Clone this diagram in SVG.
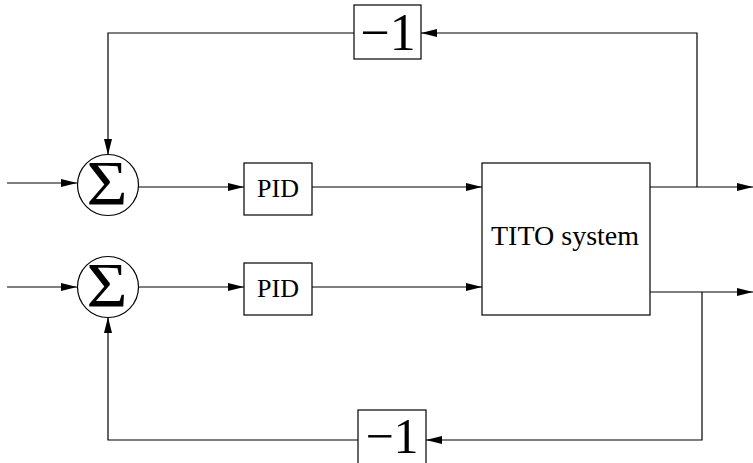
<svg xmlns="http://www.w3.org/2000/svg" width="753" height="463" viewBox="0 0 753 463">
<defs>
<marker id="ah" markerWidth="16" markerHeight="8" refX="16" refY="4" orient="auto" markerUnits="userSpaceOnUse">
<path d="M0,0 L16,4 L0,8 Z" fill="#000"/>
</marker>
<style>
.box{fill:#fff;stroke:#000;stroke-width:1.2}
.ln{fill:none;stroke:#000;stroke-width:1.2}
.t{font-family:"Liberation Serif","Times New Roman",serif;fill:#000;text-anchor:middle}
.sig{font-family:"DejaVu Serif",serif;fill:#000;text-anchor:middle}
</style>
</defs>
<g id="connectors">
<path class="ln" d="M7,183 H77" marker-end="url(#ah)"/>
<path class="ln" d="M7,287 H77" marker-end="url(#ah)"/>
<path class="ln" d="M139,187 H244" marker-end="url(#ah)"/>
<path class="ln" d="M139,287 H244" marker-end="url(#ah)"/>
<path class="ln" d="M312,187 H482" marker-end="url(#ah)"/>
<path class="ln" d="M312,287 H482" marker-end="url(#ah)"/>
<path class="ln" d="M650,187 H753" marker-end="url(#ah)"/>
<path class="ln" d="M650,292 H753" marker-end="url(#ah)"/>
<path class="ln" d="M697,187 V33 H421" marker-end="url(#ah)"/>
<path class="ln" d="M354,33 H108 V155" marker-end="url(#ah)"/>
<path class="ln" d="M702,292 V440 H426" marker-end="url(#ah)"/>
<path class="ln" d="M358,440 H108 V317" marker-end="url(#ah)"/>
</g>
<g id="sum1">
<circle class="box" cx="108" cy="185" r="30.5"/>
<text class="t" x="107" y="205" font-size="64" textLength="41" lengthAdjust="spacingAndGlyphs">Σ</text>
</g>
<g id="sum2">
<circle class="box" cx="108" cy="287" r="30.5"/>
<text class="t" x="107" y="307" font-size="64" textLength="41" lengthAdjust="spacingAndGlyphs">Σ</text>
</g>
<g id="pid1">
<rect class="box" x="244" y="163" width="68" height="52"/>
<text class="t" x="278" y="197" font-size="26">PID</text>
</g>
<g id="pid2">
<rect class="box" x="244" y="263" width="68" height="52"/>
<text class="t" x="278" y="297" font-size="26">PID</text>
</g>
<g id="tito">
<rect class="box" x="482" y="163" width="168" height="152"/>
<text class="t" x="565" y="245" font-size="28">TITO system</text>
</g>
<g id="neg1">
<rect class="box" x="354" y="5" width="67" height="54"/>
<text class="t" x="388" y="50" font-size="52">−1</text>
</g>
<g id="neg2">
<rect class="box" x="358" y="410" width="68" height="60"/>
<text class="t" x="392" y="453" font-size="50">−1</text>
</g>
</svg>
